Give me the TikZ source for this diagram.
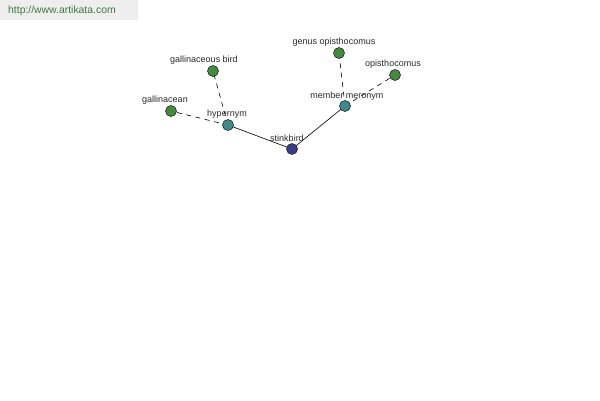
\documentclass[tikz,border=0pt]{standalone}
\usepackage{fontspec}
\setmainfont{Liberation Sans}
\definecolor{hdrbg}{HTML}{EEEEEE}
\definecolor{hdrtxt}{HTML}{3C7A3C}
\definecolor{cgreen}{HTML}{448C3C}
\definecolor{cteal}{HTML}{3C8C8C}
\definecolor{cnavy}{HTML}{3C3C8C}
\definecolor{lbl}{HTML}{2A2A2A}
\begin{document}
\begin{tikzpicture}[x=1pt,y=-1pt,
  dot/.style={circle,draw=black!85,line width=0.6pt,minimum size=11pt,inner sep=0pt},
  lab/.style={font=\fontsize{9}{10}\selectfont,text=lbl,inner sep=0pt},
  solidedge/.style={draw=black,line width=0.6pt},
  dashedge/.style={draw=black,line width=0.6pt,dash pattern=on 5pt off 4.5pt}]
\useasboundingbox (0,0) rectangle (600,400);
\fill[hdrbg] (0,0) rectangle (138,20);
\node[anchor=west,text=hdrtxt,font=\fontsize{10.4}{12}\selectfont,inner sep=0pt] (hdr) at (8,11) {http://www.artikata.com};
\coordinate (s) at (292,149);
\coordinate (h) at (228,125);
\coordinate (m) at (345,106);
\coordinate (ga) at (171,111);
\coordinate (gb) at (213,71);
\coordinate (go) at (339,53);
\coordinate (op) at (395,75);
\path[solidedge] (s) -- (h);
\path[solidedge] (s) -- (m);
\path[dashedge] (h) -- (ga);
\path[dashedge] (h) -- (gb);
\path[dashedge] (m) -- (go);
\path[dashedge] (m) -- (op);
\node[dot,fill=cnavy] (stinkbird) at (s) {};
\node[dot,fill=cteal] (hypernym) at (h) {};
\node[dot,fill=cteal] (meronym) at (m) {};
\node[dot,fill=cgreen] (gallinacean) at (ga) {};
\node[dot,fill=cgreen] (gallbird) at (gb) {};
\node[dot,fill=cgreen] (genusop) at (go) {};
\node[dot,fill=cgreen] (opis) at (op) {};
\node[lab] (l1) at (287,138) {stinkbird};
\node[lab] (l2) at (227,114) {hypernym};
\node[lab] (l3) at (347,96) {member meronym};
\node[lab] (l4) at (165,100) {gallinacean};
\node[lab] (l5) at (204,60) {gallinaceous bird};
\node[lab] (l6) at (334,42) {genus opisthocomus};
\node[lab] (l7) at (393,64) {opisthocomus};
\end{tikzpicture}
\end{document}
